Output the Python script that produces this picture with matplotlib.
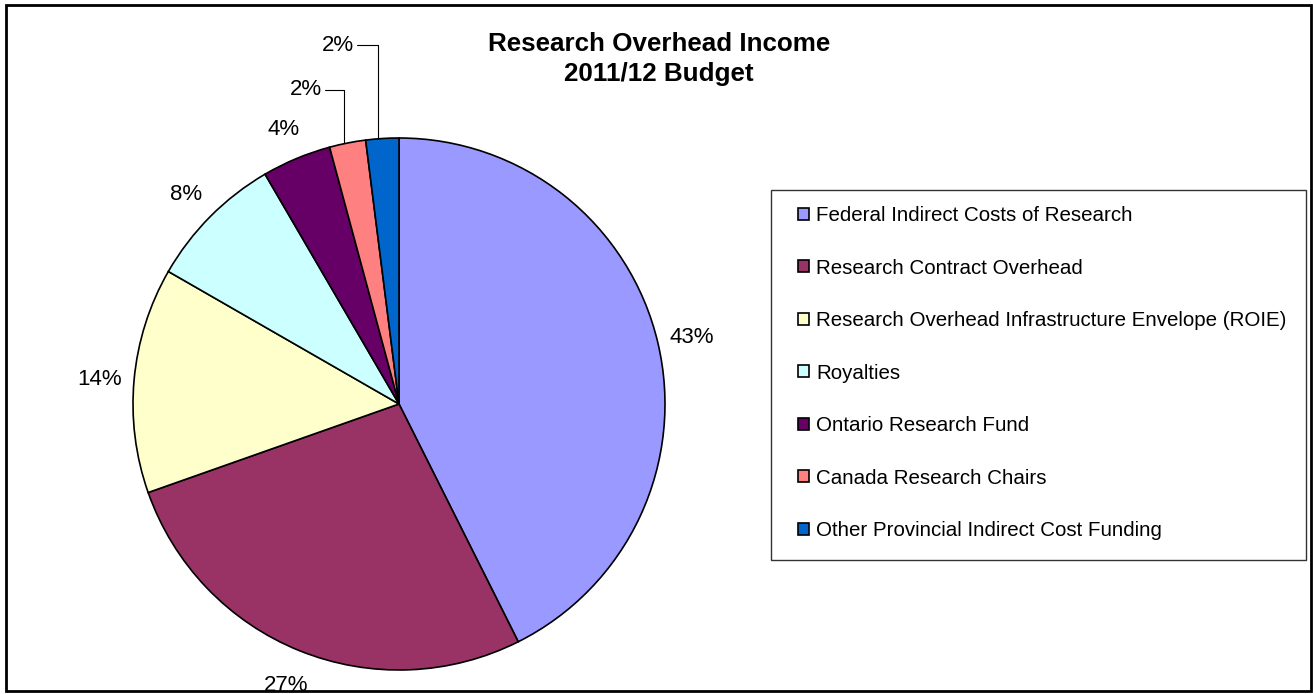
import numpy as np
import matplotlib.pyplot as plt
from matplotlib.patches import Rectangle

plt.rcParams['font.family'] = ['Liberation Sans', 'DejaVu Sans']

# Research overhead income by source, share of total (%)
sources = ["Federal Indirect Costs of Research",
           "Research Contract Overhead",
           "Research Overhead Infrastructure Envelope (ROIE)",
           "Royalties",
           "Ontario Research Fund",
           "Canada Research Chairs",
           "Other Provincial Indirect Cost Funding"]
shares = [42.6, 27.0, 13.7, 8.3, 4.2, 2.2, 2.0]
colors = ["#9999FF", "#993366", "#FFFFCC", "#CCFFFF", "#660066", "#FF8080", "#0066CC"]

W, H = 1313, 694
fig = plt.figure(figsize=(W / 100, H / 100), dpi=100)

# outer chart border
fig.patches.append(Rectangle((6 / W, 3 / H), 1305 / W, 686 / H, transform=fig.transFigure,
                             fill=False, edgecolor='black', linewidth=2))

cx, cy, r = 399, 404, 266
ax = fig.add_axes([(cx - r) / W, (H - cy - r) / H, 2 * r / W, 2 * r / H])
wedges, _ = ax.pie(shares, colors=colors, startangle=90, counterclock=False, radius=1,
                   wedgeprops=dict(edgecolor='black', linewidth=1.2))
ax.set_xlim(-1, 1)
ax.set_ylim(-1, 1)

total = sum(shares)
for i, w in enumerate(wedges):
    mid = np.deg2rad((w.theta1 + w.theta2) / 2)
    pct = '%d%%' % round(shares[i] / total * 100)
    if i < 5:
        ax.text(1.13 * np.cos(mid), 1.13 * np.sin(mid) - 0.01, pct, ha='center', va='center',
                fontsize=16)
    else:
        # small slices get a label with a leader line
        ex, ey = np.cos(mid), np.sin(mid)
        off = (-0.14, 0.20) if i == 5 else (-0.15, 0.35)
        ax.annotate(pct, xy=(ex - 0.015, ey), xytext=(ex + off[0] - 0.015, ey + off[1]),
                    ha='center', va='center', fontsize=16,
                    arrowprops=dict(arrowstyle='-', color='black', lw=0.8,
                                    shrinkA=0, shrinkB=0,
                                    connectionstyle='angle,angleA=0,angleB=90,rad=0'))

fig.text(0.502, 1 - 59 / H, "Research Overhead Income\n2011/12 Budget", ha='center',
         va='center', fontsize=18.7, fontweight='bold', linespacing=1.27)

# legend box
fig.patches.append(Rectangle((771 / W, 1 - 560 / H), 535 / W, 370 / H, transform=fig.transFigure,
                             fill=False, edgecolor='#333333', linewidth=1))
fig.legend(wedges, sources, loc='upper left', bbox_to_anchor=(798 / W, 1 - 206 / H),
           frameon=False, fontsize=14.8, handlelength=0.55, handleheight=0.55,
           handletextpad=0.35, labelspacing=1.63, borderpad=0, borderaxespad=0)

fig.savefig('out.png', dpi=100)
